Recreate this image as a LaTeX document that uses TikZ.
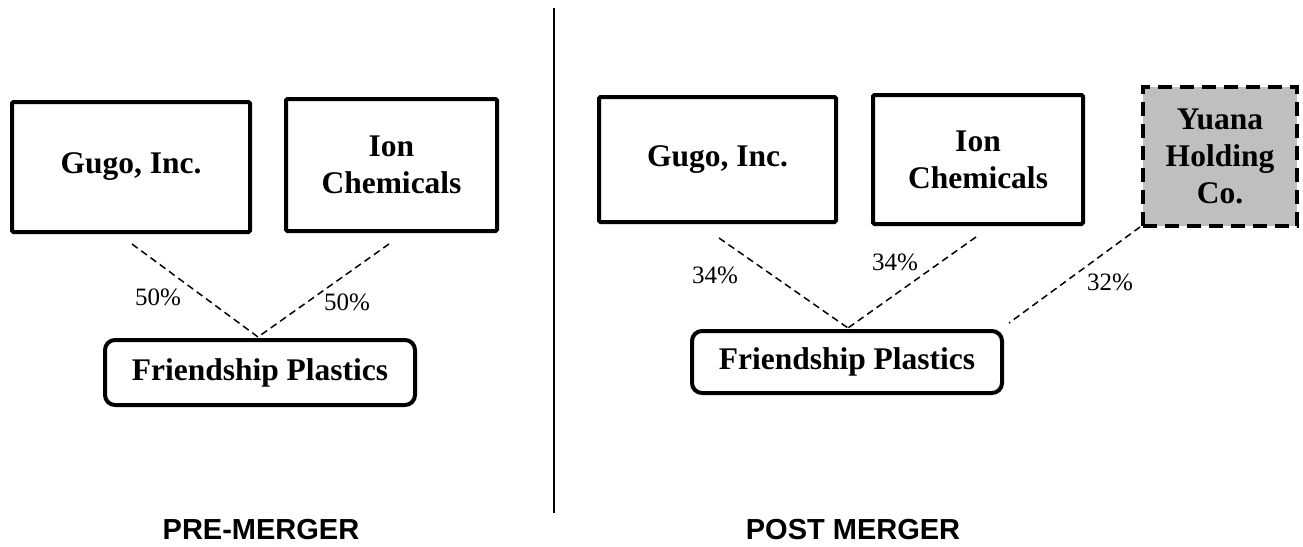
\documentclass[tikz,border=0pt]{standalone}
\usepackage{fontspec}
\setmainfont{Liberation Serif}
\newfontfamily\arialf{Liberation Sans}
\begin{document}
\begin{tikzpicture}[x=1pt,y=-1pt,
  entity/.style={draw=black,line width=4pt,rounded corners=1.5pt,align=center,inner sep=0pt,
    font=\fontsize{31.5}{37}\selectfont\bfseries},
  result/.style={entity,rounded corners=10pt},
  holding/.style={entity,fill=black!25,dash pattern=on 14pt off 8pt,rounded corners=0pt},
  own/.style={line width=1.5pt,dash pattern=on 7pt off 4.5pt},
  pct/.style={font=\fontsize{25}{29}\selectfont,inner sep=0pt},
  title/.style={font=\arialf\fontsize{29}{34}\selectfont\bfseries,inner sep=0pt},
  divider/.style={line width=1.5pt}]
\useasboundingbox (0,0) rectangle (1303,546);
% left panel
\node[entity,minimum width=238pt,minimum height=130pt] (gugoL) at (131,167) {Gugo, Inc.};
\node[entity,minimum width=211pt,minimum height=132pt] (ionL) at (391.5,165) {Ion\\Chemicals};
\node[result,minimum width=310pt,minimum height=65pt] (fpL) at (260,372.5) {Friendship Plastics};
\coordinate (gL) at (132,244);
\coordinate (iL) at (389,244);
\coordinate (fL) at (258,337);
\draw[own] (gL) -- (fL);
\draw[own] (iL) -- (fL);
\node[pct] (p1) at (158,297) {50\%};
\node[pct] (p2) at (347,302) {50\%};
% divider
\coordinate (dtop) at (554,8);
\coordinate (dbot) at (554,513);
\draw[divider] (dtop) -- (dbot);
% right panel
\node[entity,minimum width=237pt,minimum height=125pt] (gugoR) at (717.5,159.5) {Gugo, Inc.};
\node[entity,minimum width=210pt,minimum height=129pt] (ionR) at (978,159.5) {Ion\\Chemicals};
\node[holding,minimum width=154pt,minimum height=139pt] (yuana) at (1220,156.5) {Yuana\\Holding\\Co.};
\node[result,minimum width=310pt,minimum height=62pt] (fpR) at (847,362) {Friendship Plastics};
\coordinate (gR) at (719,238);
\coordinate (iR) at (976,237);
\coordinate (yR) at (1140,227);
\coordinate (fR) at (848,328);
\coordinate (fR2) at (1009,323);
\draw[own] (gR) -- (fR);
\draw[own] (iR) -- (fR);
\draw[own] (yR) -- (fR2);
\node[pct] (p3) at (715,275) {34\%};
\node[pct] (p4) at (895,262) {34\%};
\node[pct] (p5) at (1110,282) {32\%};
% titles
\node[title] (t1) at (261,530) {PRE-MERGER};
\node[title] (t2) at (853,530) {POST MERGER};
\end{tikzpicture}
\end{document}
